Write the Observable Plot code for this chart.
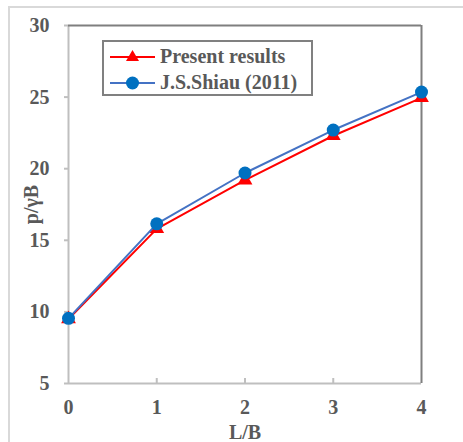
<!DOCTYPE html>
<html>
<head>
<meta charset="utf-8">
<script src="https://cdn.jsdelivr.net/npm/d3@7"></script>
<script src="https://cdn.jsdelivr.net/npm/@observablehq/plot@0.6"></script>
<style>
  html, body { margin: 0; padding: 0; background: #fff; }
  #wrap { position: relative; width: 463px; height: 442px; overflow: hidden; font-family: "Liberation Serif", "Times New Roman", serif; }
  #outer { position: absolute; left: 8px; top: 6px; width: 480px; height: 460px; border-top: 2px solid #d9d9d9; border-left: 2px solid #d9d9d9; }
  #chart { position: absolute; left: 0; top: 0; }
  #legend { position: absolute; left: 102px; top: 40px; width: 211px; height: 56px; box-sizing: border-box; border: 2px solid #808080; background: #fff; }
  .row { position: absolute; left: 6px; display: flex; align-items: center; font-weight: bold; font-size: 20px; color: #595959; white-space: nowrap; }
  .row svg { margin-right: 5px; }
</style>
</head>
<body>
<div id="wrap">
  <div id="outer"></div>
  <div id="chart"></div>
  <div id="legend"></div>
</div>
<script>
const ratioLB = [0, 1, 2, 3, 4];
const presentResults = [9.5, 15.8, 19.2, 22.3, 24.95];
const shiau2011 = [9.55, 16.15, 19.7, 22.7, 25.35];
const seriesNames = ["Present results", "J.S.Shiau (2011)"];
const seriesColors = ["#ff0000", "#4472c4"];
const markerFill = ["#ff0000", "#0070c0"];
const yTicks = [5, 10, 15, 20, 25, 30];
const xTicks = [0, 1, 2, 3, 4];

const present = ratioLB.map((x, i) => ({x, y: presentResults[i]}));
const shiau = ratioLB.map((x, i) => ({x, y: shiau2011[i]}));

const textColor = "#595959";
const font = "Liberation Serif";

const chart = Plot.plot({
  width: 463,
  height: 442,
  marginLeft: 68,
  marginRight: 42,
  marginTop: 25,
  marginBottom: 59,
  style: {background: "transparent", fontFamily: font, fontWeight: "bold", fontSize: "20px", color: textColor},
  x: {domain: [0, 4], ticks: xTicks, tickFormat: d3.format("d")},
  y: {domain: [5, 30], ticks: yTicks, tickFormat: d3.format("d")},
  marks: [
    Plot.axisY({ticks: yTicks, tickFormat: d3.format("d"), tickSize: 4, tickPadding: 15, stroke: "#bfbfbf", strokeWidth: 2, fill: textColor, fontSize: 20, fontWeight: "bold",
      label: "p/γB", labelAnchor: "center", labelArrow: "none", labelOffset: 45}),
    Plot.axisX({ticks: xTicks, tickFormat: d3.format("d"), tickSize: 0, tickPadding: 16, fill: textColor, fontSize: 20, fontWeight: "bold",
      label: "L/B", labelAnchor: "center", labelArrow: "none", labelOffset: 55}),
    Plot.axisX({ticks: xTicks.slice(1, -1), tickSize: -5, text: null, stroke: "#bfbfbf", strokeWidth: 2, label: null}),
    Plot.ruleX([0], {stroke: "#bfbfbf", strokeWidth: 2}),
    Plot.ruleY([5], {stroke: "#bfbfbf", strokeWidth: 2}),
    Plot.ruleY([30], {stroke: "#7f7f7f", strokeWidth: 2}),
    Plot.ruleX([4], {stroke: "#7f7f7f", strokeWidth: 2}),
    Plot.line(present, {x: "x", y: "y", stroke: seriesColors[0], strokeWidth: 2}),
    Plot.dot(present, {x: "x", y: "y", symbol: "triangle", r: 5.5, fill: markerFill[0], stroke: null}),
    Plot.line(shiau, {x: "x", y: "y", stroke: seriesColors[1], strokeWidth: 2}),
    Plot.dot(shiau, {x: "x", y: "y", symbol: "circle", r: 6.5, fill: markerFill[1], stroke: null})
  ]
});
document.getElementById("chart").appendChild(chart);

const legend = document.getElementById("legend");
seriesNames.forEach((name, i) => {
  const row = document.createElement("div");
  row.className = "row";
  row.style.top = (i === 0 ? 3 : 29) + "px";
  const marker = i === 0
    ? `<polygon points="22.5,3 29,14 16,14" fill="${markerFill[0]}"/>`
    : `<circle cx="22.5" cy="10" r="6.5" fill="${markerFill[1]}"/>`;
  row.innerHTML = `<svg width="45" height="20"><line x1="0" x2="45" y1="10" y2="10" stroke="${seriesColors[i]}" stroke-width="2"/>${marker}</svg><span>${name}</span>`;
  legend.appendChild(row);
});
</script>
</body>
</html>
